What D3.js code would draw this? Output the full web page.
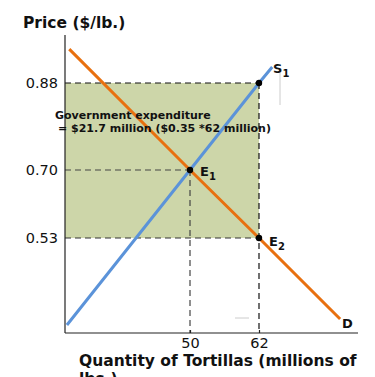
<!DOCTYPE html>
<html>
<head>
<meta charset="utf-8">
<script src="https://cdn.jsdelivr.net/npm/d3@7"></script>
<style>
  body { margin: 0; background: #fff; }
  svg { display: block; font-family: "DejaVu Sans", sans-serif; }
</style>
</head>
<body>
<div id="chart"></div>
<script>
// tick labels and key values
const priceTicks = [0.53, 0.70, 0.88];
const quantityTicks = [50, 62];

// curves as [quantity, price] points
const supply = [[28.6, 0.3125], [50, 0.70], [62, 0.88], [64.3, 0.913]];
const demand = [[29.0, 0.950], [50, 0.70], [62, 0.53], [76.1, 0.3275]];

const equilibria = [
  { name: 'E', sub: '1', q: 50, p: 0.70, dx: 10, dy: 6 },
  { name: 'E', sub: '2', q: 62, p: 0.53, dx: 10, dy: 8 }
];
const subsidyPoint = { q: 62, p: 0.88 };

const width = 375, height = 377;
const axisX = 65, axisY = 333;

// schematic chart: the price axis is not evenly spaced, so use a polylinear scale
const y = d3.scaleLinear().domain(priceTicks).range([238, 170, 83]);
const x = d3.scaleLinear().domain([50, 62]).range([190, 259]);

const svg = d3.select('#chart').append('svg')
  .attr('width', width)
  .attr('height', height);

// shaded government expenditure area
svg.append('rect')
  .attr('x', axisX)
  .attr('y', y(0.88))
  .attr('width', x(62) - axisX)
  .attr('height', y(0.53) - y(0.88))
  .attr('fill', '#cdd6a9');

// dashed guides
const guides = [
  { x1: axisX, y1: y(0.88), x2: x(62), y2: y(0.88), c: '#111' },
  { x1: x(62), y1: y(0.88), x2: x(62), y2: axisY, c: '#111' },
  { x1: axisX, y1: y(0.70), x2: x(50), y2: y(0.70), c: '#444' },
  { x1: x(50), y1: y(0.70), x2: x(50), y2: axisY, c: '#444' },
  { x1: axisX, y1: y(0.53), x2: x(62), y2: y(0.53), c: '#333' }
];
svg.append('g').selectAll('line').data(guides).join('line')
  .attr('x1', d => d.x1).attr('y1', d => d.y1)
  .attr('x2', d => d.x2).attr('y2', d => d.y2)
  .attr('stroke', d => d.c)
  .attr('stroke-width', 1.2)
  .attr('stroke-dasharray', '6,4');

// faint stray marks from the original
svg.append('line').attr('x1', 280).attr('y1', 70).attr('x2', 280).attr('y2', 105)
  .attr('stroke', '#ccc').attr('stroke-width', 1);
svg.append('line').attr('x1', 235).attr('y1', 318).attr('x2', 249).attr('y2', 318)
  .attr('stroke', '#ccc').attr('stroke-width', 1);

// axes
const xAxis = svg.append('g')
  .attr('transform', `translate(0,${axisY})`)
  .call(d3.axisBottom(x).tickValues(quantityTicks).tickSize(-3).tickPadding(5));
xAxis.select('.domain').attr('d', `M${axisX},0H358`);

const yAxis = svg.append('g')
  .attr('transform', `translate(${axisX},0)`)
  .call(d3.axisLeft(y).tickValues(priceTicks).tickFormat(d3.format('.2f')).tickSize(0).tickPadding(7));
yAxis.select('.domain').attr('d', `M0,35V${axisY}`);

[xAxis, yAxis].forEach(a => {
  a.selectAll('path, line').attr('stroke', '#222').attr('stroke-width', 1.2);
  a.selectAll('text')
    .attr('fill', '#111')
    .style('font-family', '"DejaVu Sans", sans-serif')
    .style('font-size', '14.5px');
});

// curves
const line = d3.line().x(d => x(d[0])).y(d => y(d[1]));
svg.append('path').datum(demand)
  .attr('d', line).attr('fill', 'none')
  .attr('stroke', '#e8700f').attr('stroke-width', 3);
svg.append('path').datum(supply)
  .attr('d', line).attr('fill', 'none')
  .attr('stroke', '#5b93d9').attr('stroke-width', 3);

// points
svg.append('g').selectAll('circle').data([...equilibria, subsidyPoint]).join('circle')
  .attr('cx', d => x(d.q)).attr('cy', d => y(d.p))
  .attr('r', 3.2).attr('fill', '#000');

// point labels
const labels = [
  ...equilibria.map(d => ({ name: d.name, sub: d.sub, tx: x(d.q) + d.dx, ty: y(d.p) + d.dy })),
  { name: 'S', sub: '1', tx: 273, ty: 73 },
  { name: 'D', sub: null, tx: 342, ty: 328 }
];
labels.forEach(l => {
  const t = svg.append('text')
    .attr('x', l.tx).attr('y', l.ty)
    .style('font-size', '13px').style('font-weight', 'bold').attr('fill', '#111')
    .text(l.name);
  if (l.sub) {
    t.append('tspan').attr('dy', 4).style('font-size', '10px').text(l.sub);
  }
});

// annotation
svg.append('text')
  .attr('x', 55).attr('y', 119)
  .style('font-size', '11px').style('font-weight', 'bold').attr('fill', '#111')
  .text('Government expenditure');
svg.append('text')
  .attr('x', 58).attr('y', 132)
  .style('font-size', '11px').style('font-weight', 'bold').attr('fill', '#111')
  .text('= $21.7 million ($0.35 *62 million)');

// axis titles
svg.append('text')
  .attr('x', 23).attr('y', 28)
  .style('font-size', '15.5px').style('font-weight', 'bold').attr('fill', '#111')
  .text('Price ($/lb.)');
svg.append('text')
  .attr('x', 79).attr('y', 366)
  .style('font-size', '15.5px').style('font-weight', 'bold').attr('fill', '#111')
  .text('Quantity of Tortillas (millions of');
svg.append('text')
  .attr('x', 79).attr('y', 384)
  .style('font-size', '15.5px').style('font-weight', 'bold').attr('fill', '#111')
  .text('lbs.)');
</script>
</body>
</html>
